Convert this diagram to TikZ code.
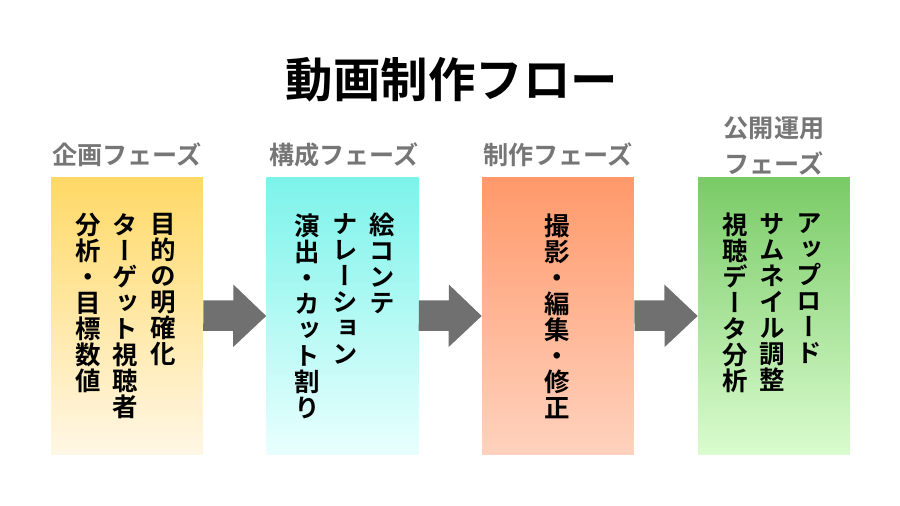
\documentclass[tikz,border=0pt]{standalone}
\usepackage{fontspec}
\setmainfont{Noto Sans CJK JP}[BoldFont={Noto Sans CJK JP Bold}]
\newfontfamily\tatefont{Noto Sans CJK JP Bold}[RawFeature=+vert]
\usepackage{xcolor}

\definecolor{planTop}{HTML}{FFD966}
\definecolor{planBot}{HTML}{FFF7E6}
\definecolor{kouseiTop}{HTML}{7CF3EA}
\definecolor{kouseiBot}{HTML}{E9FFFE}
\definecolor{seisakuTop}{HTML}{FF996A}
\definecolor{seisakuBot}{HTML}{FFD2BE}
\definecolor{unyouTop}{HTML}{79CB66}
\definecolor{unyouBot}{HTML}{DAFCCF}
\definecolor{arrowgray}{HTML}{707070}
\definecolor{labelgray}{HTML}{767676}

% tategaki: one glyph per line
\makeatletter
\newcommand\tate[1]{\vtop{\baselineskip=14.8pt\@tfor\tch:=#1\do{\hbox to 14.5pt{\hss\tch\hss}}}}
\makeatother

\begin{document}
\begin{tikzpicture}[x=0.02cm, y=-0.02cm,
    phase/.style={minimum width=3.04cm, minimum height=5.56cm, inner sep=0pt},
    col/.style={anchor=north, inner sep=0pt, font=\tatefont\fontsize{14.5}{14.8}\selectfont},
    phaselabel/.style={text=labelgray, align=center, inner sep=0pt, font=\bfseries\fontsize{14.3}{21}\selectfont}]
    \useasboundingbox (0,0) rectangle (900,506);
    % Titulo
    \node[font=\bfseries\fontsize{27}{30}\selectfont] (title) at (452,80) {動画制作フロー};
    % Fases
    \node[phase, top color=planTop, bottom color=planBot] (plan) at (127,316) {};
    \node[phase, top color=kouseiTop, bottom color=kouseiBot] (kousei) at (342.5,316) {};
    \node[phase, top color=seisakuTop, bottom color=seisakuBot] (seisaku) at (558,316) {};
    \node[phase, top color=unyouTop, bottom color=unyouBot] (unyou) at (774,316) {};
    % Rotulos das fases
    \node[phaselabel] (planlabel) at (127,155) {企画フェーズ};
    \node[phaselabel] (kouseilabel) at (344,155) {構成フェーズ};
    \node[phaselabel] (seisakulabel) at (558,155) {制作フェーズ};
    \node[phaselabel] (unyoulabel) at (774,146) {公開運用\\フェーズ};
    % Conteudo (vertical)
    \node[col] (plan1) at (163,213) {\tate{目的の明確化}};
    \node[col] (plan2) at (125,213) {\tate{ターゲット視聴者}};
    \node[col] (plan3) at (88,213) {\tate{分析・目標数値}};
    \node[col] (kousei1) at (382,213) {\tate{絵コンテ}};
    \node[col] (kousei2) at (345,213) {\tate{ナレーション}};
    \node[col] (kousei3) at (307,213) {\tate{演出・カット割り}};
    \node[col] (seisaku1) at (557,213) {\tate{撮影・編集・修正}};
    \node[col] (unyou1) at (809,213) {\tate{アップロード}};
    \node[col] (unyou2) at (772,213) {\tate{サムネイル調整}};
    \node[col] (unyou3) at (735,213) {\tate{視聴データ分析}};
    % Setas
    \fill[arrowgray] (plan.east) -- ++(0,-15.5) -- ++(30,0) -- ++(0,-16) -- (kousei.west) -- ++(-33,31) -- ++(0,-16) -- ++(-30,0) -- cycle;
    \fill[arrowgray] (kousei.east) -- ++(0,-15.5) -- ++(30,0) -- ++(0,-16) -- (seisaku.west) -- ++(-33,31) -- ++(0,-16) -- ++(-30,0) -- cycle;
    \fill[arrowgray] (seisaku.east) -- ++(0,-15.5) -- ++(30,0) -- ++(0,-16) -- (unyou.west) -- ++(-33,31) -- ++(0,-16) -- ++(-30,0) -- cycle;
\end{tikzpicture}
\end{document}
